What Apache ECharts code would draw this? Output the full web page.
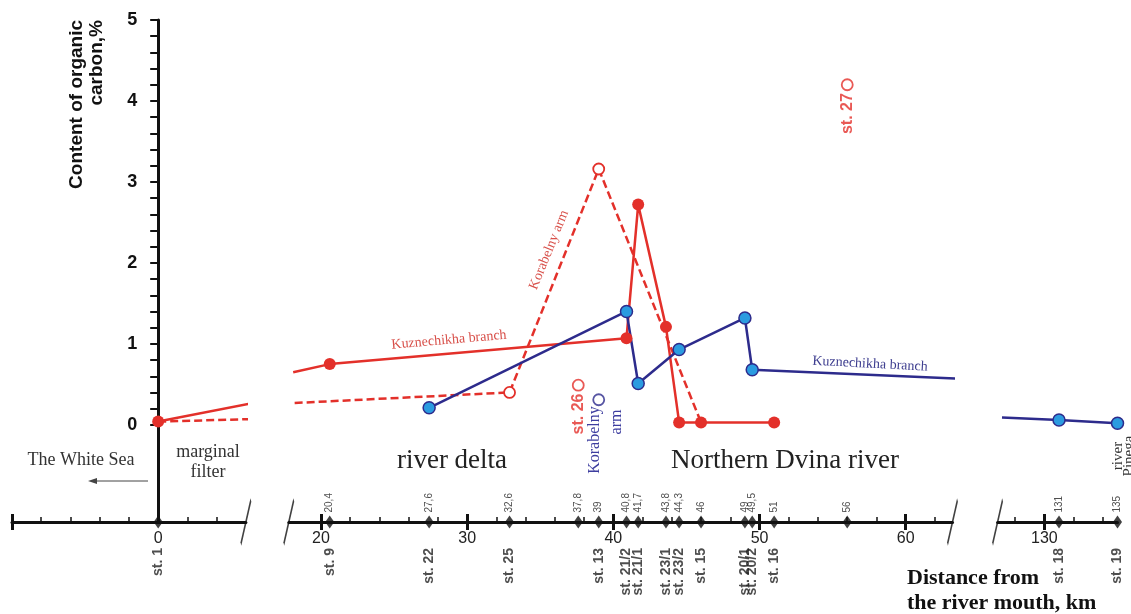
<!DOCTYPE html>
<html>
<head>
<meta charset="utf-8">
<title>Organic carbon, Northern Dvina</title>
<script src="https://cdn.jsdelivr.net/npm/echarts@6.0.0/dist/echarts.min.js"></script>
<style>
  html, body { margin: 0; padding: 0; background: #fff; }
  #chart { width: 1131px; height: 614px; }
</style>
</head>
<body>
<div id="chart"></div>
<script>
// distance from the river mouth (km) -> content of organic carbon (%)
var redMouth = [[0, 0.04], [6.2, 0.26]];
var redDashMouth = [[0, 0.04], [6.2, 0.07]];
var redDelta = [[18.1, 0.65], [20.6, 0.75], [40.9, 1.07], [41.7, 2.72], [43.6, 1.21], [44.5, 0.03], [46, 0.03], [51, 0.03]];
var redDashDelta = [[18.2, 0.27], [32.9, 0.40], [39, 3.16], [46, 0.03]];
var blueDelta = [[27.4, 0.21], [40.9, 1.40], [41.7, 0.51], [44.5, 0.93], [49, 1.32], [49.5, 0.68], [63.5, 0.57]];
var bluePinega = [[127.1, 0.09], [131, 0.06], [135, 0.02]];
// thin links across the axis breaks
var redLink = [[15.5, 0.31], [17.7, 0.60]];
var redDashLink = [[15.5, 0.10], [17.7, 0.23]];
var blueLink = [[63.9, 0.49], [66.1, 0.15]];
// single samples
var st26 = [37.6, 0.49];
var st27 = [56, 4.2];
var korabelnyBlue = [39, 0.31];

// stations as placed on the drawing, with their printed distances
var stationKm = [0, 20.6, 27.4, 32.9, 37.6, 39, 40.9, 41.7, 43.6, 44.5, 46, 49, 49.5, 51, 56, 131, 135];
var stationTags = ['', '20,4', '27,6', '32,6', '37,8', '39', '40,8', '41,7', '43,8', '44,3', '46', '49', '49,5', '51', '56', '131', '135'];
var stationNames = ['st. 1', 'st. 9', 'st. 22', 'st. 25', '', 'st. 13', 'st. 21/2', 'st. 21/1', 'st. 23/1',
  'st. 23/2', 'st. 15', 'st. 20/1', 'st. 20/2', 'st. 16', '', 'st. 18', 'st. 19'];

// broken distance axis: three pieces
var segMin = [-10, 17.8, 126.8];
var segMax = [6, 63.2, 135];
var segMajor = [[-10], [20, 30, 40, 50, 60], [130]];
var segMinor = [[-8, -6, -4, -2, 2, 4], [22, 24, 26, 28, 32, 34, 36, 38, 42, 44, 46, 48, 52, 54, 56, 58, 62], [128, 132, 134]];
var segLabels = [[0], [20, 30, 40, 50, 60], [130]];

var yLabels = [0, 1, 2, 3, 4, 5];
var yTicks = [0, 0.2, 0.4, 0.6, 0.8, 1, 1.2, 1.4, 1.6, 1.8, 2, 2.2, 2.4, 2.6, 2.8, 3, 3.2, 3.4, 3.6, 3.8,
  4, 4.2, 4.4, 4.6, 4.8, 5];
var yMin = -1.2, yMax = 5;

var RED = '#e3302a', NAVY = '#2d2b8c', DOT = '#2b9be0', INK = '#111';

var chart = echarts.init(document.getElementById('chart'));

var grids = [
  { left: 12, top: 20, width: 233.9, height: 502 },
  { left: 288.8, top: 20, width: 663.7, height: 502 },
  { left: 997.6, top: 20, width: 119.9, height: 502 }
].map(function (g) { g.outerBoundsMode = 'none'; g.containLabel = false; return g; });

var xAxes = [];
segMin.forEach(function (mn, g) {
  var base = { gridIndex: g, type: 'value', min: mn, max: segMax[g], position: 'bottom', splitLine: { show: false } };
  xAxes.push(Object.assign({}, base, {
    axisLine: { show: true, onZero: false, lineStyle: { color: INK, width: 3 } },
    axisTick: { show: true, inside: false, length: 8, customValues: segMajor[g], lineStyle: { color: INK, width: 3 } },
    axisLabel: { show: true, customValues: segLabels[g], margin: 9, fontSize: 16, color: '#222', fontFamily: 'Arial' }
  }));
  xAxes.push(Object.assign({}, base, {
    axisLine: { show: false, onZero: false },
    axisTick: { show: true, inside: true, length: 8, customValues: segMajor[g], lineStyle: { color: INK, width: 3 } },
    axisLabel: { show: false }
  }));
  xAxes.push(Object.assign({}, base, {
    axisLine: { show: false, onZero: false },
    axisTick: { show: true, inside: true, length: 5, customValues: segMinor[g], lineStyle: { color: INK, width: 1.5 } },
    axisLabel: { show: false }
  }));
});

// the value axis stands at km 0 of the first piece
var yOffset = -(0 - segMin[0]) / (segMax[0] - segMin[0]) * grids[0].width;
var yAxes = [0, 1, 2].map(function (g) {
  return {
    gridIndex: g, type: 'value', min: yMin, max: yMax, position: 'left', show: g === 0, offset: yOffset,
    splitLine: { show: false },
    axisLine: { show: true, onZero: false, lineStyle: { color: INK, width: 3 } },
    axisTick: { show: true, length: 8, customValues: yTicks, lineStyle: { color: INK, width: 2 } },
    axisLabel: { show: true, customValues: yLabels, margin: 21, fontSize: 18, fontWeight: 'bold', color: INK, fontFamily: 'Arial' }
  };
});

function segOf(km) {
  for (var i = 0; i < segMin.length; i++) {
    if (km >= segMin[i] - 0.01 && km <= segMax[i] + 0.01) return i;
  }
  return 1;
}

// bare: indices drawn without a dot, hollow: indices drawn as open circles
function pts(arr, bare, hollow) {
  return arr.map(function (p, i) {
    if (bare && bare.indexOf(i) >= 0) return { value: p, symbol: 'none' };
    if (hollow && hollow.indexOf(i) >= 0) {
      return { value: p, symbolSize: 11, itemStyle: { color: '#fff', borderColor: RED, borderWidth: 1.8 } };
    }
    return { value: p };
  });
}

function line(g, data, color, width, type, extra) {
  return Object.assign({
    type: 'line', xAxisIndex: 3 * g, yAxisIndex: g, data: data, clip: false, silent: true,
    symbol: 'circle', symbolSize: 12, showAllSymbol: true,
    lineStyle: { color: color, width: width, type: type || 'solid' },
    itemStyle: { color: color }
  }, extra || {});
}

var blueDots = { itemStyle: { color: DOT, borderColor: NAVY, borderWidth: 1.5 } };

var series = [
  line(0, pts(redDashMouth, [0, 1]), RED, 2.5, [8, 4]),
  line(1, pts(redDashDelta, [0, 3], [1, 2]), RED, 2.5, [8, 4]),
  line(1, pts(redDashLink, [0, 1]), '#e67a74', 1, 'solid'),
  line(0, pts(redMouth, [1]), RED, 2.5),
  line(1, pts(redLink, [0, 1]), '#e67a74', 1, 'solid'),
  line(1, pts(redDelta, [0]), RED, 2.5),
  line(1, pts(blueDelta, [6]), NAVY, 2.5, 'solid', blueDots),
  line(1, pts(blueLink, [0, 1]), '#77779f', 1, 'solid'),
  line(2, pts(bluePinega, [0]), NAVY, 2.5, 'solid', blueDots)
];

// open circles with rotated station tags
function openPoint(p, color, tag) {
  return {
    type: 'scatter', xAxisIndex: 3 * segOf(p[0]), yAxisIndex: segOf(p[0]), silent: true, clip: false,
    data: [p], symbol: 'circle', symbolSize: 11,
    itemStyle: { color: '#fff', borderColor: color, borderWidth: 1.8 },
    label: {
      show: !!tag, formatter: tag || '', position: 'bottom', distance: 2, rotate: 90,
      align: 'right', verticalAlign: 'middle', fontSize: 16, fontWeight: 'bold', color: color, fontFamily: 'Arial'
    }
  };
}
series.push(openPoint(st26, RED, 'st. 26'));
series.push(openPoint(st27, RED, 'st. 27'));
series.push(openPoint(korabelnyBlue, NAVY, ''));

// stations on the distance axis
[0, 1, 2].forEach(function (g) {
  var diamonds = [], names = [];
  stationKm.forEach(function (km, i) {
    if (segOf(km) !== g) return;
    diamonds.push({ value: [km, yMin], name: stationTags[i] });
    names.push({ value: [km, yMin], name: stationNames[i] });
  });
  series.push({
    type: 'scatter', xAxisIndex: 3 * g, yAxisIndex: g, silent: true, clip: false, z: 5,
    data: diamonds, symbol: 'diamond', symbolSize: [9, 13], itemStyle: { color: INK },
    label: {
      show: true, formatter: '{b}', position: 'top', distance: 3, rotate: 90,
      align: 'left', verticalAlign: 'middle', fontSize: 10, color: '#222', fontFamily: 'Arial'
    }
  });
  series.push({
    type: 'scatter', xAxisIndex: 3 * g, yAxisIndex: g, silent: true, clip: false,
    data: names, symbol: 'circle', symbolSize: 10, itemStyle: { color: 'rgba(0,0,0,0)' },
    label: {
      show: true, formatter: '{b}', position: 'bottom', distance: 21, rotate: 90,
      align: 'right', verticalAlign: 'middle', fontSize: 14, fontWeight: 'bold', color: '#222', fontFamily: 'Arial'
    }
  });
});

// break marks at the loose ends of the axis pieces
var breakEnds = [[0, segMax[0]], [1, segMin[1]], [1, segMax[1]], [2, segMin[2]]];
breakEnds.forEach(function (b) {
  series.push({
    type: 'scatter', xAxisIndex: 3 * b[0], yAxisIndex: b[0], silent: true, clip: false, z: 6,
    data: [[b[1], yMin]], symbol: 'path://M0,44L10,0', symbolSize: [10, 44],
    itemStyle: { color: 'none', borderColor: INK, borderWidth: 2.5 }
  });
});

var serif = '"Liberation Serif", "Times New Roman", serif';
function txt(x, y, text, font, fill, extra) {
  return Object.assign({
    type: 'text', x: x, y: y, silent: true,
    style: Object.assign({ text: text, font: font, fill: fill, align: 'center', verticalAlign: 'middle' }, (extra && extra.style) || {})
  }, extra && extra.rotation ? { rotation: extra.rotation } : {});
}
var deg = Math.PI / 180;

var notes = [
  txt(67, 20, 'Content of organic\ncarbon,%', 'bold 19px Arial', INK, { rotation: 90 * deg, style: { align: 'right', verticalAlign: 'top', lineHeight: 20 } }),
  txt(81, 460, 'The White Sea', '18px ' + serif, '#333'),
  txt(208, 462, 'marginal\nfilter', '18px ' + serif, '#333', { style: { lineHeight: 20 } }),
  txt(452, 461, 'river delta', '27px ' + serif, '#222'),
  txt(785, 461, 'Northern Dvina river', '27px ' + serif, '#222'),
  txt(1124, 456, 'river\nPinega', '15px ' + serif, '#333', { rotation: 90 * deg, style: { lineHeight: 11 } }),
  txt(449, 340, 'Kuznechikha branch', '14px ' + serif, '#d8504a', { rotation: 5 * deg }),
  txt(870, 364, 'Kuznechikha branch', '14px ' + serif, '#3d3d8f', { rotation: -3 * deg }),
  txt(549, 250, 'Korabelny arm', '14px ' + serif, '#d8504a', { rotation: 68 * deg }),
  txt(595, 440, 'Korabelny', '16px ' + serif, '#3d3d9f', { rotation: 90 * deg }),
  txt(617, 422, 'arm', '16px ' + serif, '#3d3d9f', { rotation: 90 * deg }),
  txt(907, 566, 'Distance from\nthe river mouth, km', 'bold 22px ' + serif, INK, { style: { align: 'left', verticalAlign: 'top', lineHeight: 25 } }),
  { type: 'line', silent: true, shape: { x1: 148, y1: 481, x2: 94, y2: 481 }, style: { stroke: '#444', lineWidth: 1 } },
  { type: 'polygon', silent: true, shape: { points: [[88, 481], [97, 478], [97, 484]] }, style: { fill: '#444' } }
];

chart.setOption({
  backgroundColor: '#fff',
  animation: false,
  grid: grids,
  xAxis: xAxes,
  yAxis: yAxes,
  series: series,
  graphic: notes
});
</script>
</body>
</html>
